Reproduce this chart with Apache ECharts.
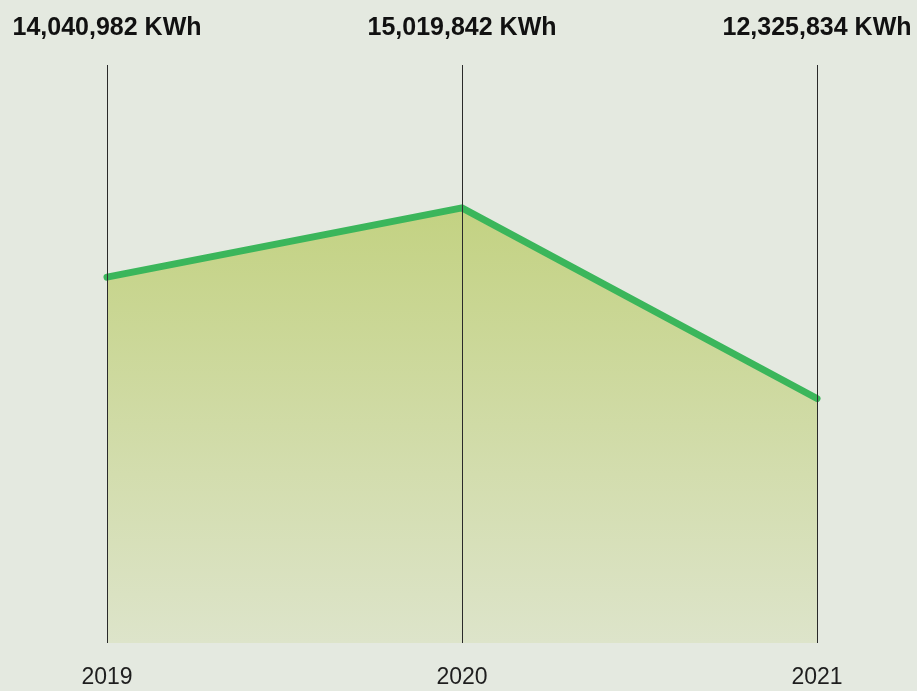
<!DOCTYPE html>
<html>
<head>
<meta charset="utf-8">
<script src="https://cdn.jsdelivr.net/npm/echarts@6/dist/echarts.min.js"></script>
<style>
  html, body { margin: 0; padding: 0; background: #e4e9e0; }
  #chart { width: 917px; height: 691px; }
</style>
</head>
<body>
<div id="chart"></div>
<script>
// Annual energy consumption
const years = ['2019', '2020', '2021'];
const consumption = [14040982, 15019842, 12325834];
const unit = 'KWh';

const fmt = v => v.toLocaleString('en-US') + ' ' + unit;

const chart = echarts.init(document.getElementById('chart'));
chart.setOption({
  backgroundColor: '#e4e9e0',
  animation: false,
  grid: { left: 107, right: 100, top: 65, bottom: 48 },
  xAxis: [
    {
      type: 'category',
      data: years,
      boundaryGap: false,
      z: 5,
      axisLine: { show: false },
      axisTick: { show: false },
      splitLine: { show: true, lineStyle: { color: '#2a2a2a', width: 1 } },
      axisLabel: {
        margin: 23,
        color: '#1e1e1e',
        fontFamily: 'Liberation Sans, Arial, sans-serif',
        fontSize: 23
      }
    },
    {
      type: 'category',
      position: 'top',
      data: years,
      boundaryGap: false,
      axisLine: { show: false },
      axisTick: { show: false },
      axisLabel: {
        margin: 24,
        color: '#111',
        fontWeight: 'bold',
        fontFamily: 'Liberation Sans, Arial, sans-serif',
        fontSize: 25,
        formatter: (val, idx) => fmt(consumption[idx])
      }
    }
  ],
  yAxis: {
    type: 'value',
    min: 8870000,
    max: 17040000,
    show: false,
    splitLine: { show: false }
  },
  series: [{
    type: 'line',
    data: consumption,
    symbol: 'none',
    z: 2,
    lineStyle: { color: '#3bb65b', width: 7, cap: 'round', join: 'miter' },
    areaStyle: {
      opacity: 1,
      color: new echarts.graphic.LinearGradient(0, 0, 0, 1, [
        { offset: 0, color: '#c3d282' },
        { offset: 1, color: '#dde4ca' }
      ])
    }
  }]
});
</script>
</body>
</html>
